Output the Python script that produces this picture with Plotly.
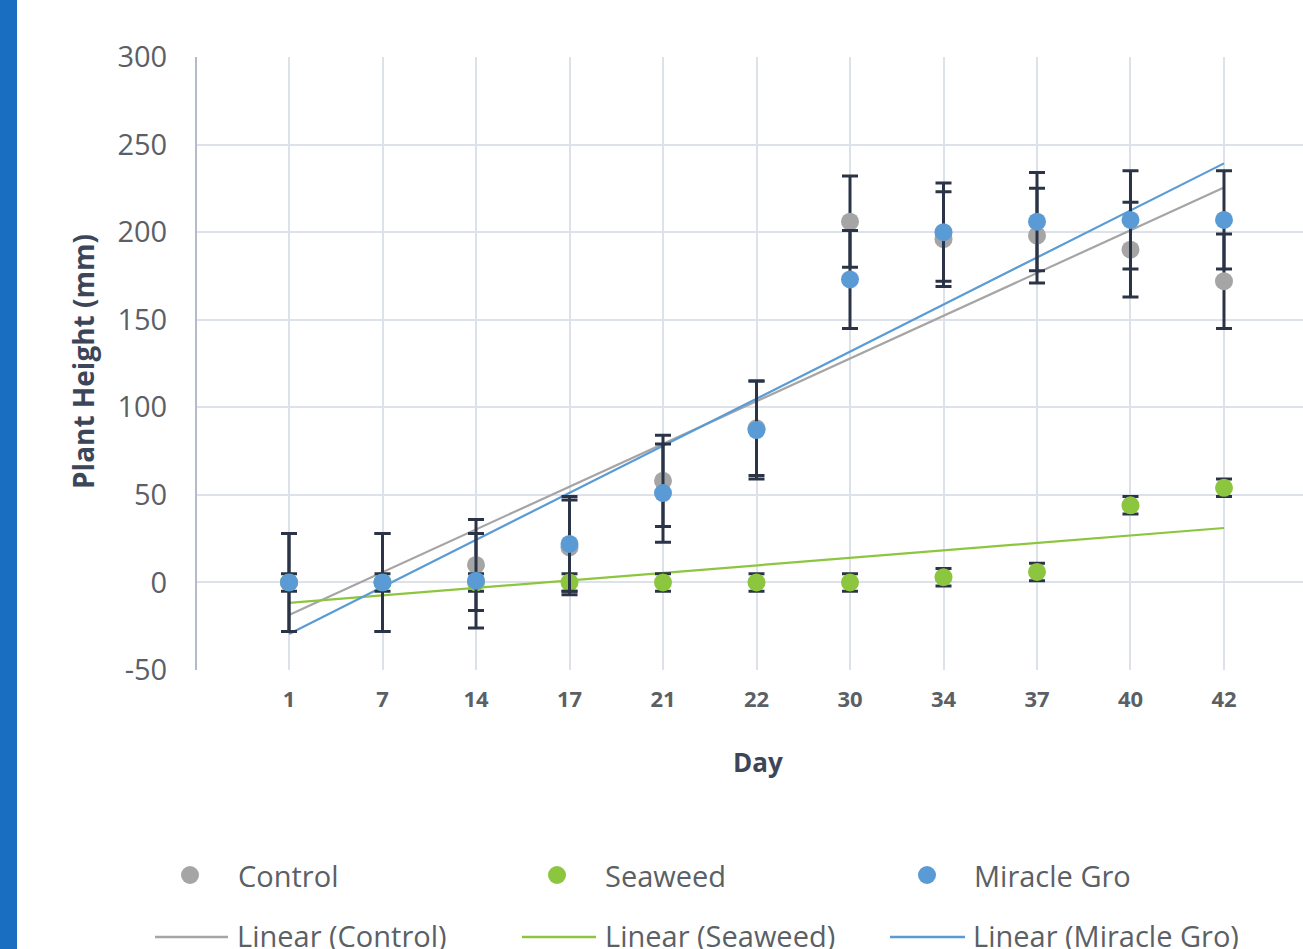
import numpy as np
import plotly.graph_objects as go

# ---------------- data ----------------
days = ["1", "7", "14", "17", "21", "22", "30", "34", "37", "40", "42"]
control = [0, 0, 10, 20, 58, 88, 206, 196, 198, 190, 172]
control_err = [28, 28, 26, 27, 26, 27, 26, 27, 27, 27, 27]
seaweed = [0, 0, 0, 0, 0, 0, 0, 3, 6, 44, 54]
seaweed_err = [5, 5, 5, 5, 5, 5, 5, 5, 5, 5, 5]
miracle = [0, 0, 1, 22, 51, 87, 173, 200, 206, 207, 207]
miracle_err = [28, 28, 27, 27, 28, 28, 28, 28, 28, 28, 28]
y_ticks = [-50, 0, 50, 100, 150, 200, 250, 300]

series_names = ["Control", "Seaweed", "Miracle Gro"]
colors = ["#a5a5a5", "#8cc63e", "#5b9bd5"]
err_color = "#2b3446"

W, H = 1303, 949
L, R, T, B = 197, 0, 57, 279
PW, PH = W - L - R, H - T - B

def px(xp):
    return (xp - L) / PW

def py(yp):
    return (H - B - yp) / PH

idx = np.arange(len(days))
fig = go.Figure()

# trendlines (least-squares, like Excel linear trendline)
for name, vals, col in zip(series_names, [control, seaweed, miracle], colors):
    m, c = np.polyfit(idx, np.array(vals, dtype=float), 1)
    xs = [idx[0], idx[-1]]
    fig.add_trace(go.Scatter(
        x=xs, y=[m * xs[0] + c, m * xs[1] + c], mode="lines",
        line=dict(color=col, width=2.2), name=f"Linear ({name})",
        showlegend=False, hoverinfo="skip"))

# points with error bars
for name, vals, errs, col in zip(series_names, [control, seaweed, miracle],
                                 [control_err, seaweed_err, miracle_err], colors):
    fig.add_trace(go.Scatter(
        x=idx, y=vals, mode="markers", name=name, showlegend=False,
        marker=dict(color=col, size=18),
        error_y=dict(type="data", array=errs, color=err_color,
                     thickness=3, width=8)))

font_fam = "Open Sans, Noto Sans, sans-serif"
tick_col = "#5b5f66"
title_col = "#3d4658"
grid_col = "#dce1ea"

fig.update_layout(
    width=W, height=H,
    margin=dict(l=L, r=R, t=T, b=B),
    paper_bgcolor="white", plot_bgcolor="white",
    font=dict(family=font_fam, color=tick_col),
    showlegend=False,
    xaxis=dict(
        range=[-0.984, 10.845], tickmode="array", tickvals=list(idx),
        ticktext=[f"<b>{d}</b>" for d in days],
        tickfont=dict(size=22, color=tick_col),
        showgrid=True, gridcolor=grid_col, gridwidth=2,
        zeroline=False, showline=False, ticks="", ticklabelstandoff=14),
    yaxis=dict(
        range=[-50, 300], tickmode="array", tickvals=y_ticks,
        ticktext=[str(v) for v in y_ticks],
        tickfont=dict(size=29, color=tick_col),
        showgrid=True, gridcolor=grid_col, gridwidth=2,
        zeroline=False, showline=True, linecolor="#b3bac8", linewidth=2,
        ticks="", ticklabelstandoff=22),
)

# blue strip on the left edge
fig.add_shape(type="rect", xref="paper", yref="paper",
              x0=px(0), x1=px(17), y0=py(H), y1=py(0),
              fillcolor="#1a6ec2", line=dict(width=0), layer="above")

# axis titles
fig.add_annotation(text="<b>Day</b>", xref="paper", yref="paper",
                   x=px(758), y=py(762), xanchor="center", yanchor="middle",
                   showarrow=False,
                   font=dict(size=26, color=title_col, family=font_fam))
fig.add_annotation(text="<b>Plant Height (mm)</b>", xref="paper", yref="paper",
                   x=px(83), y=py(362), xanchor="center", yanchor="middle",
                   showarrow=False, textangle=-90,
                   font=dict(size=28, color=title_col, family=font_fam))

# legend (manual, two rows)
mk_x = [190, 557, 927]
txt_x1 = [236, 603, 972]
ln_x = [(155, 228), (522, 596), (890, 965)]
txt_x2 = [235, 603, 971]
r1, r2 = 875, 935
rad = 9
for i, (name, col) in enumerate(zip(series_names, colors)):
    fig.add_shape(type="circle", xref="paper", yref="paper",
                  x0=px(mk_x[i] - rad), x1=px(mk_x[i] + rad),
                  y0=py(r1 + rad), y1=py(r1 - rad),
                  fillcolor=col, line=dict(width=0))
    fig.add_annotation(text=name, xref="paper", yref="paper",
                       x=px(txt_x1[i]), y=py(r1), xanchor="left", yanchor="middle",
                       showarrow=False, font=dict(size=29, color=tick_col))
    fig.add_shape(type="line", xref="paper", yref="paper",
                  x0=px(ln_x[i][0]), x1=px(ln_x[i][1]), y0=py(r2 + 2), y1=py(r2 + 2),
                  line=dict(color=col, width=2.5))
    fig.add_annotation(text=f"Linear ({name})", xref="paper", yref="paper",
                       x=px(txt_x2[i]), y=py(r2), xanchor="left", yanchor="middle",
                       showarrow=False, font=dict(size=29, color=tick_col))

fig.write_html(
    "out.html",
    config={"displayModeBar": False},
    post_script="document.body.style.margin='0';document.body.style.overflow='hidden';",
)
